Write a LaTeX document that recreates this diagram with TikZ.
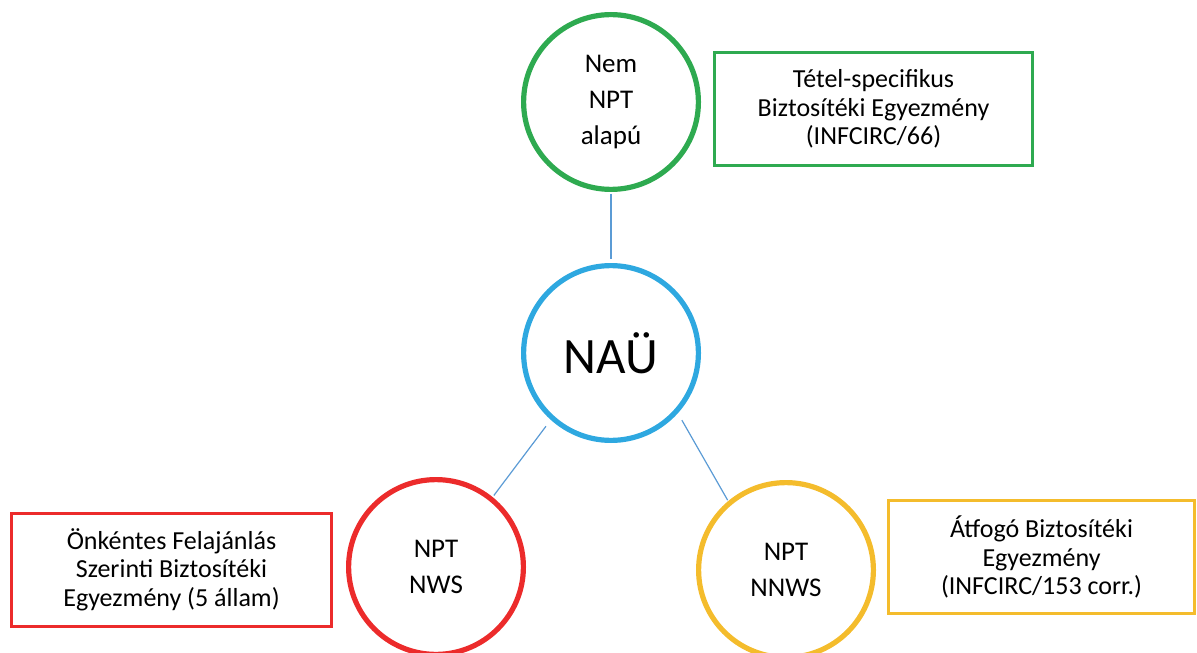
\documentclass[tikz,border=0pt]{standalone}
\usepackage{fontspec}
\setmainfont{Carlito}
\definecolor{zold}{RGB}{46,170,80}
\definecolor{kek}{RGB}{46,168,224}
\definecolor{piros}{RGB}{236,43,43}
\definecolor{sarga}{RGB}{244,188,44}
\definecolor{vonal}{RGB}{91,155,213}
\tikzset{
  kor/.style = {circle, draw, line width=2.6pt, minimum size=87.4pt, inner sep=0pt,
    align=center, font=\fontsize{13.5}{17.8}\selectfont},
  doboz/.style = {draw, line width=1.5pt, inner sep=0pt, align=center,
    minimum height=56.5pt, font=\fontsize{13}{14.2}\selectfont},
  kapocs/.style = {draw=vonal, line width=0.6pt}
}

\begin{document}
\begin{tikzpicture}[x=0.5pt, y=-0.5pt]
\useasboundingbox (0,0) rectangle (1197,652);
% korok
\node[kor, draw=zold] (nem) at (611,102) {Nem\\NPT\\alapú};
\node[kor, draw=kek, font=\fontsize{25.5}{28}\selectfont] (nau) at (611,353) {NAÜ};
\node[kor, draw=piros] (nws) at (436,567) {NPT\\NWS};
\node[kor, draw=sarga] (nnws) at (786,570) {NPT\\NNWS};
% dobozok
\node[doboz, draw=zold, minimum width=159pt] (tetel) at (873.5,109)
  {Tétel-specifikus\\Biztosítéki Egyezmény\\(INFCIRC/66)};
\node[doboz, draw=piros, minimum width=160pt] (onkentes) at (171.5,569.5)
  {Önkéntes Felajánlás\\Szerinti Biztosítéki\\Egyezmény (5 állam)};
\node[doboz, draw=sarga, minimum width=153pt] (atfogo) at (1041.5,557)
  {Átfogó Biztosítéki\\Egyezmény\\(INFCIRC/153 corr.)};
% vonalak
\draw[kapocs, shorten <=1pt, shorten >=2pt] (nem) -- (nau);
\draw[kapocs, shorten <=4pt, shorten >=1pt] (nau.-132) -- (nws.51);
\draw[kapocs, shorten <=4pt, shorten >=0.5pt] (nau.-42) -- (nnws.130);
\end{tikzpicture}
\end{document}
